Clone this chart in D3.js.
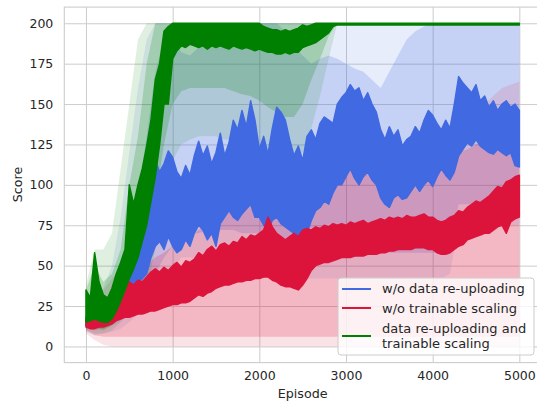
<!DOCTYPE html>
<html><head><meta charset="utf-8">
<script src="https://cdn.jsdelivr.net/npm/d3@7"></script>
<style>
body{margin:0;background:#fff}
svg{display:block}
text{font-family:"DejaVu Sans",sans-serif;fill:#262626}
</style>
</head><body>
<svg id="chart" width="537" height="404"></svg>
<script>
// ---------------- data ----------------
// episodes for the shaded bands (every 100)
const bandEpisodes = [0,100,200,300,400,500,600,700,800,900,1000,1100,1200,1300,1400,1500,1600,1700,1800,1900,2000,2100,2200,2300,2400,2500,2600,2700,2800,2900,3000,3100,3200,3300,3400,3500,3600,3700,3800,3900,4000,4100,4200,4300,4400,4500,4600,4700,4800,4900,5000];
// episodes for the (noisy) line envelopes (every 50)
const lineEpisodes = [0,50,100,150,200,250,300,350,400,450,500,550,600,650,700,750,800,850,900,950,1000,1050,1100,1150,1200,1250,1300,1350,1400,1450,1500,1550,1600,1650,1700,1750,1800,1850,1900,1950,2000,2050,2100,2150,2200,2250,2300,2350,2400,2450,2500,2550,2600,2650,2700,2750,2800,2850,2900,2950,3000,3050,3100,3150,3200,3250,3300,3350,3400,3450,3500,3550,3600,3650,3700,3750,3800,3850,3900,3950,4000,4050,4100,4150,4200,4250,4300,4350,4400,4450,4500,4550,4600,4650,4700,4750,4800,4850,4900,4950,5000];

// --- w/o data re-uploading ---
const blueHi = [16,15,17,18,20,24,28,33,38,45,
 55,65,75,85,100,112,115,108,113,121,
 117,108,104,112,106,118,127,118,124,113,
 120,132,118,126,140,134,146,136,152,140,
 122,130,119,135,148,145,140,128,118,124,
 115,130,134,128,138,142,140,138,150,154,
 157,162,158,160,152,157,150,145,134,128,
 136,130,134,124,128,130,136,132,140,146,
 143,138,134,140,135,150,167,163,160,157,
 162,152,155,148,152,146,150,152,148,150,
 146];
const blueLo = [13,12,12,12,13,14,15,17,20,25,
 30,35,40,42,45,55,62,65,60,68,
 62,58,60,66,62,70,75,72,66,70,
 62,76,80,84,80,78,82,85,88,80,
 80,75,72,78,80,76,74,72,70,66,
 64,70,78,84,86,90,88,95,100,100,
 105,110,104,100,105,108,103,100,92,88,
 86,92,94,91,92,96,100,96,100,103,
 99,105,110,106,103,108,118,122,126,124,
 128,124,122,120,119,122,120,118,120,112,
 111];
const blueBandLo = [11,10,11,13,16,22,28,35,45,55,
 62,68,70,70,72,72,72,72,70,70,
 70,68,66,64,60,58,58,60,60,60,
 60,60,60,60,60,58,58,58,58,58,
 58,58,60,88,88,88,88,88,88,88,
 88];
const blueBandHi = [18,22,28,35,50,70,95,130,170,190,
 190,182,180,185,190,195,200,200,200,200,
 200,200,200,195,185,180,175,178,180,178,
 175,172,170,165,160,170,180,190,195,198,
 200,200,200,200,200,200,200,200,200,200,
 200];
const blueFuzzLo = [9,7,8,9,11,15,20,25,32,40,
 48,55,55,55,55,55,55,55,55,55,
 55,50,48,46,45,42,42,42,42,42,
 42,42,42,42,42,42,42,42,42,42,
 42,42,45,75,75,75,75,75,75,75,
 75];
const blueFuzzHi = [22,28,36,50,80,120,160,190,200,200,
 200,200,200,200,200,200,200,200,200,200,
 200,200,200,200,200,200,200,200,200,200,
 200,200,200,200,200,200,200,200,200,200,
 200,200,200,200,200,200,200,200,200,200,
 200];

// --- w/o trainable scaling ---
const redHi = [18,22,28,20,25,30,33,35,38,36,
 40,38,41,40,43,46,48,46,49,47,
 50,52,49,53,52,54,58,56,60,62,
 59,63,64,62,65,64,68,66,69,68,
 70,72,80,74,70,68,66,68,70,68,
 72,73,72,74,73,75,74,76,75,76,
 75,77,76,77,78,76,77,78,79,78,
 80,79,80,79,81,80,80,81,82,80,
 80,78,77,78,80,81,84,83,86,88,
 90,89,91,93,96,99,98,102,103,105,
 106];
const redLo = [12,11,11,12,12,13,14,16,17,18,
 18,19,20,20,21,22,22,23,24,25,
 26,26,27,27,28,30,32,31,33,34,
 36,37,38,38,39,40,40,41,41,42,
 42,43,43,41,40,38,37,37,36,35,
 38,42,47,50,51,52,52,53,54,55,
 55,55,56,56,56,57,57,57,58,58,
 59,59,60,60,60,60,61,61,61,60,
 60,58,57,57,58,60,62,63,66,67,
 68,69,70,70,72,74,75,70,77,79,
 80];
const redBandLo = [10,7,6,6,6,6,6,6,6,6,
 6,6,6,6,6,6,6,6,6,6,
 6,6,6,6,6,6,6,6,6,6,
 6,6,6,6,6,6,6,6,6,6,
 6,6,6,6,6,6,6,6,6,6,
 6];
const redBandHi = [18,22,27,32,37,42,46,50,55,58,
 62,65,68,72,75,78,82,84,86,88,
 90,92,94,96,98,102,106,108,110,110,
 112,112,112,112,112,112,112,112,112,112,
 112,114,116,120,122,125,128,130,133,136,
 138];
const redFuzzLo = [8,4,1,0,0,0,0,0,0,0,
 0,0,0,0,0,0,0,0,0,0,
 0,0,0,0,0,0,0,0,0,0,
 0,0,0,0,0,0,0,0,0,0,
 0,0,0,0,0,0,0,0,0,0,
 0];
const redFuzzHi = [22,28,35,42,48,55,60,65,70,72,
 76,80,82,86,88,92,96,98,100,100,
 102,104,106,108,110,114,118,120,122,122,
 124,124,124,124,124,124,124,124,124,124,
 124,126,130,135,140,145,150,155,160,162,
 164];

// --- data re-uploading and trainable scaling ---
const greenHi = [35,30,58,40,32,30,36,45,52,60,
 100,88,100,110,124,140,165,175,195,198,
 200,200,200,200,200,200,200,200,200,200,
 200,200,200,200,200,200,200,200,200,200,
 200,198,197,196,196,195,196,195,196,197,
 199,198,199,200,200,200,200,200,200,200,
 200,200,200,200,200,200,200,200,200,200,
 200,200,200,200,200,200,200,200,200,200,
 200,200,200,200,200,200,200,200,200,200,
 200,200,200,200,200,200,200,200,200,200,
 200];
const greenLo = [15,16,17,16,15,15,17,22,28,35,
 42,48,55,65,75,90,105,125,150,150,
 178,183,186,185,187,186,185,186,184,186,
 185,186,185,184,186,185,184,185,184,183,
 184,183,182,182,181,181,182,181,182,182,
 185,186,187,188,190,192,194,198,199,199,
 199,199,199,199,199,199,199,199,199,199,
 199,199,199,199,199,199,199,199,199,199,
 199,199,199,199,199,199,199,199,199,199,
 199,199,199,199,199,199,199,199,199,199,
 199];
const greenBandLo = [12,12,10,13,20,28,40,60,90,125,
 150,158,160,160,160,160,160,158,156,155,
 152,148,145,142,142,150,165,178,192,200,
 200,200,200,200,200,200,200,200,200,200,
 200,200,200,200,200,200,200,200,200,200,
 200];
const greenBandHi = [35,50,40,45,60,100,130,175,200,200,
 200,200,200,200,200,200,200,200,200,200,
 200,200,200,200,200,200,200,200,200,200,
 200,200,200,200,200,200,200,200,200,200,
 200,200,200,200,200,200,200,200,200,200,
 200];
const greenFuzzLo = [10,8,8,10,15,20,25,35,60,90,
 115,125,128,130,130,130,128,128,126,125,
 125,120,118,115,115,120,135,155,178,200,
 200,200,200,200,200,200,200,200,200,200,
 200,200,200,200,200,200,200,200,200,200,
 200];
const greenFuzzHi = [38,60,60,70,110,150,190,200,200,200,
 200,200,200,200,200,200,200,200,200,200,
 200,200,200,200,200,200,200,200,200,200,
 200,200,200,200,200,200,200,200,200,200,
 200,200,200,200,200,200,200,200,200,200,
 200];

const xTicks = [0,1000,2000,3000,4000,5000];
const yTicks = [0,25,50,75,100,125,150,175,200];
const seriesNames = ["w/o data re-uploading","w/o trainable scaling","data re-uploading and\ntrainable scaling"];
const seriesColors = ["#4169e1","#dc143c","#008000"];

// ---------------- layout ----------------
const svg = d3.select("#chart");
const L = 64.3, R = 541, T = 7.1, B = 362.6;
const x = d3.scaleLinear().domain([-250,5250]).range([L,R]);
const y = d3.scaleLinear().domain([-10,210]).range([B,T]);
const grid = "#cccccc";

const gx = svg.append("g").attr("transform",`translate(0,${B})`)
  .call(d3.axisBottom(x).tickValues(xTicks).tickFormat(d3.format("d")).tickSizeInner(-(B-T)).tickSizeOuter(0).tickPadding(8.5));
const gy = svg.append("g").attr("transform",`translate(${L},0)`)
  .call(d3.axisLeft(y).tickValues(yTicks).tickSizeInner(-(R-L)).tickSizeOuter(0).tickPadding(11));
[gx,gy].forEach(g=>{
  g.select(".domain").remove();
  g.selectAll(".tick line").attr("stroke",grid).attr("stroke-width",1);
  g.selectAll(".tick text").attr("font-size","12.5px").attr("fill","#262626").style("font-family","DejaVu Sans");
});
svg.append("rect").attr("x",L).attr("y",T).attr("width",R-L).attr("height",B-T)
  .attr("fill","none").attr("stroke",grid).attr("stroke-width",1.1);

svg.append("text").attr("x",(L+R)/2).attr("y",398).attr("text-anchor","middle")
  .attr("font-size","12.7px").text("Episode");
svg.append("text").attr("transform","translate(21.5,184.5) rotate(-90)").attr("text-anchor","middle")
  .attr("font-size","12.7px").text("Score");

// ---------------- marks ----------------
svg.append("clipPath").attr("id","clip").append("rect").attr("x",L).attr("y",T).attr("width",R-L).attr("height",B-T);
const plot = svg.append("g").attr("clip-path","url(#clip)");

const envArea = (xs,lo,hi)=> d3.area().x((d,i)=>x(xs[i])).y0((d,i)=>y(lo[i])).y1((d,i)=>y(hi[i]));
const fuzz = [[blueFuzzLo,blueFuzzHi],[redFuzzLo,redFuzzHi],[greenFuzzLo,greenFuzzHi]];
const bands = [[blueBandLo,blueBandHi],[redBandLo,redBandHi],[greenBandLo,greenBandHi]];
const lines = [[blueLo,blueHi],[redLo,redHi],[greenLo,greenHi]];

[0,1,2].forEach(k=>{
  plot.append("path").datum(bandEpisodes).attr("d",envArea(bandEpisodes,fuzz[k][0],fuzz[k][1]))
    .attr("fill",seriesColors[k]).attr("fill-opacity",0.12);
  plot.append("path").datum(bandEpisodes).attr("d",envArea(bandEpisodes,bands[k][0],bands[k][1]))
    .attr("fill",seriesColors[k]).attr("fill-opacity",0.2);
});
lines.forEach((l,k)=>{
  plot.append("path").datum(lineEpisodes).attr("d",envArea(lineEpisodes,l[0],l[1]))
    .attr("fill",seriesColors[k]).attr("stroke",seriesColors[k]).attr("stroke-width",1.5).attr("stroke-linejoin","round");
});

// ---------------- legend ----------------
const lg = svg.append("g");
lg.append("rect").attr("x",338).attr("y",278).attr("width",196).attr("height",77).attr("rx",3)
  .attr("fill","#ffffff").attr("fill-opacity",0.8).attr("stroke","#cccccc").attr("stroke-width",1);
const rows = [{ly:289, ty:[292.5]},{ly:308, ty:[312.5]},{ly:336, ty:[332.5,347.5]}];
rows.forEach((r,k)=>{
  lg.append("line").attr("x1",342).attr("x2",371).attr("y1",r.ly).attr("y2",r.ly)
    .attr("stroke",seriesColors[k]).attr("stroke-width",2);
  seriesNames[k].split("\n").forEach((p,j)=>{
    lg.append("text").attr("x",382).attr("y",r.ty[j]).attr("font-size","13px").text(p);
  });
});
</script>
</body></html>
